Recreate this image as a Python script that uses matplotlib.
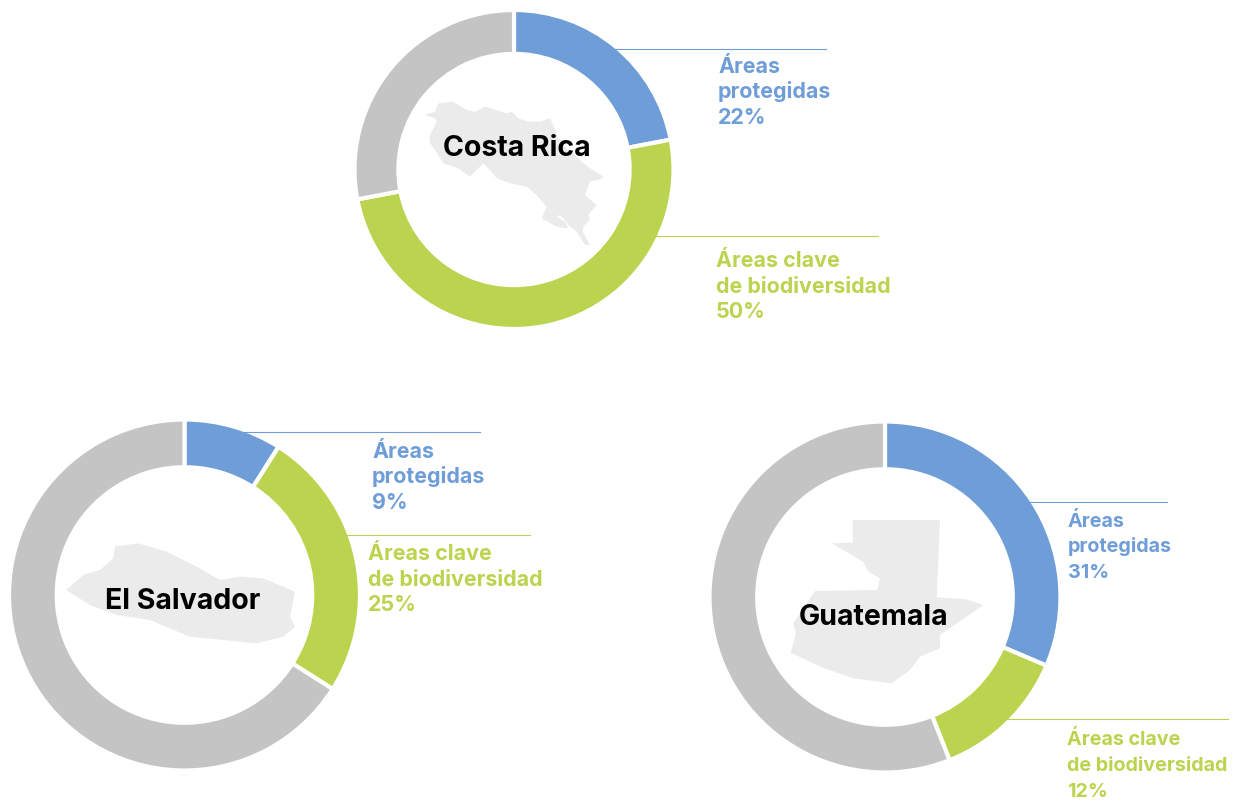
import matplotlib
matplotlib.use("Agg")
import matplotlib.pyplot as plt
from matplotlib.patches import Polygon

W, H = 1236, 801
plt.rcParams['font.family'] = ['Inter', 'DejaVu Sans']

countries = ["Costa Rica", "El Salvador", "Guatemala"]
protected = [22, 9, 31.4]
biodiversity = [50, 25, 12.6]
rest = [28, 66, 56]
protected_labels = ["22%", "9%", "31%"]
biodiversity_labels = ["50%", "25%", "12%"]

BLUE, GREEN, GRAY, LAND = "#6F9DD8", "#BBD44F", "#C4C4C4", "#EBEBEB"

# layout (pixels)
centers = [(514, 169.5), (184.5, 595), (885, 597)]
radii = [159.5, 175.5, 175.5]
widths = [0.275, 0.272, 0.272]
title_pos = [(516.5, 156), (183, 609), (874, 625)]
label_size = [15.4, 15.4, 14.2]
blue_lead = [(612, 826, 49), (240, 480, 432), (1030, 1167, 501.5)]
green_lead = [(655, 878, 235.5), (345, 530, 535), (1000, 1228, 719)]
blue_text = [(718, (73, 98.5, 123.5)), (372, (458, 483, 509)), (1068, (527, 552, 578))]
green_text = [(716, (267, 293, 318)), (368, (560, 586, 611)), (1067, (745, 771, 797))]

cr_shape = [(75,105),(90,100),(105,95),(115,70),(160,65),(175,75),(200,90),(225,95),(255,80),(290,90),(320,100),
            (335,95),(355,115),(385,125),(420,125),(450,115),(462,140),(470,165),(500,205),(525,225),(545,245),
            (570,265),(612,290),(600,298),(570,305),(555,345),(590,375),(565,405),(570,420),(550,440),(548,455),
            (570,495),(555,495),(530,455),(510,440),(480,405),(470,410),(495,425),(505,445),(470,440),(425,415),
            (440,380),(410,345),(380,320),(330,310),(290,295),(270,270),(250,250),(210,290),(175,265),(130,250),
            (105,210),(90,190),(88,170),(110,125),(105,115)]
sv_shape = [(48,180),(100,135),(150,120),(190,85),(195,50),(265,40),(350,65),(440,110),(510,150),(570,140),
            (640,145),(735,185),(720,260),(735,290),(700,320),(620,340),(520,330),(420,320),(300,270),(200,255),(120,225)]
gt_shape = [(248,30),(510,30),(500,262),(590,268),(640,285),(560,340),(510,375),(510,415),(450,440),(420,480),
            (365,520),(250,505),(150,470),(62,428),(78,370),(70,340),(135,243),(322,240),(330,205),(295,185),
            (280,155),(185,100),(248,98)]
shapes = [cr_shape, sv_shape, gt_shape]
shape_origin = [(400, 80), (50, 530), (770, 510)]

fig = plt.figure(figsize=(W / 100, H / 100), dpi=100, facecolor="white")

for i, name in enumerate(countries):
    cx, cy = centers[i]
    r = radii[i]
    ax = fig.add_axes([(cx - r) / W, 1 - (cy + r) / H, 2 * r / W, 2 * r / H])
    ax.pie([protected[i], biodiversity[i], rest[i]], colors=[BLUE, GREEN, GRAY],
           startangle=90, counterclock=False, radius=1,
           wedgeprops=dict(width=widths[i], edgecolor="white", linewidth=3.0))
    ax.set_xlim(-1, 1)
    ax.set_ylim(-1, 1)
    ax.set_aspect("equal")
    ax.axis("off")

ov = fig.add_axes([0, 0, 1, 1], facecolor="none")
ov.set_xlim(0, W)
ov.set_ylim(H, 0)
ov.axis("off")

for i, name in enumerate(countries):
    ox, oy = shape_origin[i]
    ov.add_patch(Polygon([(ox + x / 3, oy + y / 3) for x, y in shapes[i]], closed=True,
                         facecolor=LAND, edgecolor="none", zorder=1))
    tx, ty = title_pos[i]
    ov.text(tx, ty, name, ha="center", va="baseline", fontsize=20.5, fontweight="bold",
            color="black", zorder=3)

    x0, x1, y = blue_lead[i]
    ov.plot([x0, x1], [y, y], color=BLUE, lw=0.8, zorder=2)
    x0, x1, y = green_lead[i]
    ov.plot([x0, x1], [y, y], color=GREEN, lw=0.8, zorder=2)

    x, ys = blue_text[i]
    for line, yy in zip(["Áreas", "protegidas", protected_labels[i]], ys):
        ov.text(x, yy, line, ha="left", va="baseline", fontsize=label_size[i], fontweight="bold", color=BLUE)
    x, ys = green_text[i]
    for line, yy in zip(["Áreas clave", "de biodiversidad", biodiversity_labels[i]], ys):
        ov.text(x, yy, line, ha="left", va="baseline", fontsize=label_size[i], fontweight="bold", color=GREEN)

fig.savefig("out.png", dpi=100, facecolor="white")
